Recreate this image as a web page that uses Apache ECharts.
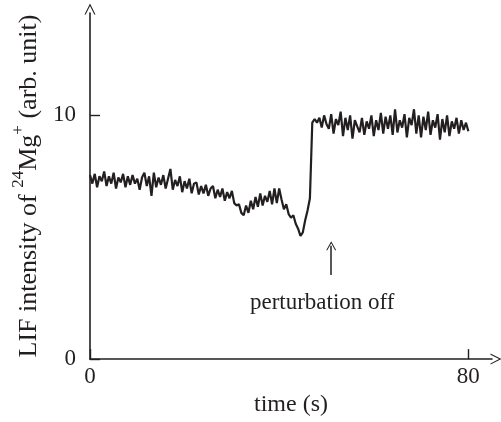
<!DOCTYPE html>
<html>
<head>
<meta charset="utf-8">
<script src="https://cdn.jsdelivr.net/npm/echarts@6/dist/echarts.min.js"></script>
<style>
  html, body { margin: 0; padding: 0; background: #ffffff; }
  #chart { width: 501px; height: 422px; }
</style>
</head>
<body>
<div id="chart"></div>
<script>
// ---- data ----
const timeStep = 0.5;   // seconds between samples
const segFlat = [7.55,7.2,7.6,7.05,7.5,7.3,7.7,7.1,7.5,7.2,7.65,7.0,7.45,7.25,7.6,7.05,7.5,7.15,7.55,7.2,7.4,6.95,7.45,7.65,7.1,7.5,6.7,7.65,7.05,7.45,7.15];
const segDecline = [7.55,7.0,7.4,7.8,6.95,7.35,7.1,7.5,6.85,7.3,7.0,7.4,6.8,7.2,7.25,6.75,7.1,6.8,7.15,6.7,7.0,7.1,6.6,6.95,6.65,7.0,6.5,6.85,6.6,6.9,6.4,6.3];
const segDip = [6.35,6.0,5.9,6.3,6.0,6.5,6.15,6.65,6.25,6.8,6.3,6.7,6.45,6.9,6.35,7.0,6.4,7.0,6.55,6.15,6.35,5.95,5.8,5.9,5.55,5.35,5.05,5.2,5.7,6.1,6.6,9.7];
const segPlateau = [9.85,9.7,9.9,9.5,10.0,9.65,9.45,10.05,9.25,9.85,9.6,10.15,9.15,9.9,9.4,10.0,9.05,9.8,9.55,9.3,9.9,9.2,9.75,9.45,10.0,9.15,9.8,9.4,10.1,9.25,9.95,9.45,10.0,9.2,10.25,9.3,9.8,9.5,10.05,9.1,9.9,9.6,10.25,9.25,10.0,9.1,9.95,9.4,10.15,9.2,9.8,9.5,10.05,9.0,9.85,9.3,10.0,9.15,9.75,9.45,9.9,9.25,9.8,9.4,9.7,9.35];
const xTicks = [0, 80];
const yTicks = [0, 10];
const xMax = 85;
const yMax = 14.2;
const annotationArrow = [[51, 4.65], [51, 3.45]];
const annotationText = 'perturbation off';
const annotationPos = [49.1, 2.3];

const intensity = [].concat(segFlat, segDecline, segDip, segPlateau);
const seriesData = intensity.map((v, i) => [i * timeStep, v]);

const ink = '#231f20';
const font = '"Liberation Serif", "Times New Roman", serif';
const chevron = 'path://M0,10 L5,0 L10,10 L8.9,10 L5,2.2 L1.1,10 Z';

const chart = echarts.init(document.getElementById('chart'), null, { renderer: 'canvas' });
chart.setOption({
  animation: false,
  backgroundColor: '#ffffff',
  grid: { left: 90, right: 9, top: 13, bottom: 54, containLabel: false },
  xAxis: {
    type: 'value', min: 0, max: xMax,
    name: 'time (s)', nameLocation: 'middle', nameGap: 27,
    nameTextStyle: { fontFamily: font, fontSize: 24, color: ink },
    axisLine: { show: true, lineStyle: { color: ink, width: 1.6 }, symbol: ['none', chevron], symbolSize: [12, 11], symbolOffset: [0, 4] },
    axisTick: { show: true, inside: true, length: 10, customValues: xTicks, lineStyle: { color: ink, width: 1.4 } },
    axisLabel: { customValues: xTicks, fontFamily: font, fontSize: 23, color: ink, margin: 6 },
    splitLine: { show: false }
  },
  yAxis: {
    type: 'value', min: 0, max: yMax,
    name: '{a|LIF intensity of }{s|24}{a|Mg}{s|+}{a| (arb. unit)}',
    nameLocation: 'middle', nameGap: 40, nameRotate: 90,
    nameTextStyle: {
      fontFamily: font, fontSize: 26, color: ink,
      rich: {
        a: { fontFamily: font, fontSize: 26, color: ink, lineHeight: 32, verticalAlign: 'bottom' },
        s: { fontFamily: font, fontSize: 17, color: ink, lineHeight: 32, verticalAlign: 'top' }
      }
    },
    axisLine: { show: true, lineStyle: { color: ink, width: 1.6 }, symbol: ['none', chevron], symbolSize: [12, 11], symbolOffset: [0, 4] },
    axisTick: { show: true, inside: true, length: 10, customValues: yTicks, lineStyle: { color: ink, width: 1.4 } },
    axisLabel: { customValues: yTicks, fontFamily: font, fontSize: 23, color: ink, margin: 14 },
    splitLine: { show: false }
  },
  series: [{
    type: 'line',
    data: seriesData,
    showSymbol: false,
    symbol: 'none',
    lineStyle: { color: ink, width: 2.2 },
    markLine: {
      silent: true,
      symbol: [chevron, 'none'],
      symbolSize: [10, 9],
      label: { show: false },
      lineStyle: { color: ink, width: 1.5, type: 'solid' },
      data: [[{ coord: annotationArrow[0] }, { coord: annotationArrow[1] }]]
    },
    markPoint: {
      silent: true,
      symbol: 'rect',
      symbolSize: 1,
      itemStyle: { color: 'rgba(0,0,0,0)' },
      label: { show: true, position: 'inside', formatter: annotationText, fontFamily: font, fontSize: 23, color: ink },
      data: [{ coord: annotationPos }]
    }
  }]
});
</script>
</body>
</html>
